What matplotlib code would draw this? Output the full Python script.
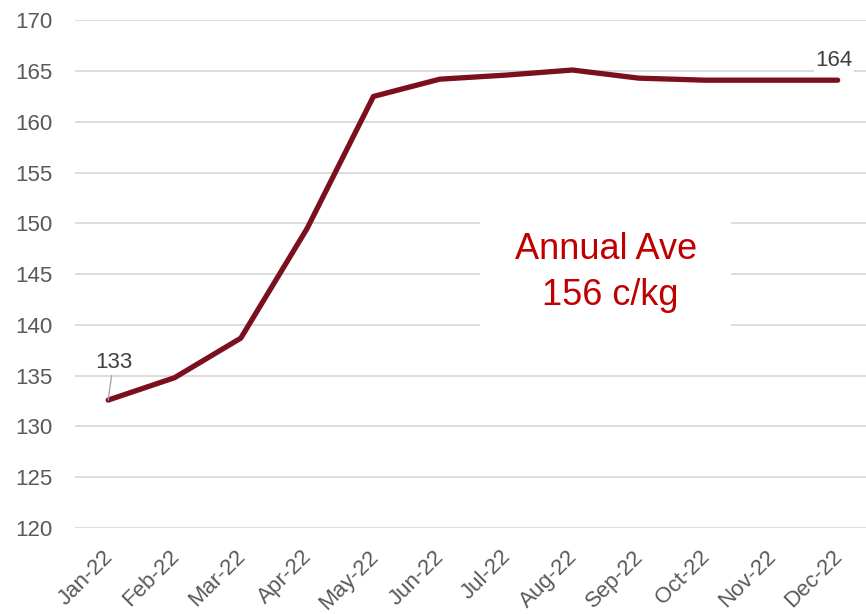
import matplotlib.pyplot as plt
import matplotlib.transforms as mtransforms

plt.rcParams['font.family'] = ['Liberation Sans', 'DejaVu Sans']

months = ['Jan-22', 'Feb-22', 'Mar-22', 'Apr-22', 'May-22', 'Jun-22',
          'Jul-22', 'Aug-22', 'Sep-22', 'Oct-22', 'Nov-22', 'Dec-22']
price = [132.6, 134.8, 138.7, 149.5, 162.5, 164.2,
         164.6, 165.1, 164.3, 164.1, 164.1, 164.1]
yticks = [120, 125, 130, 135, 140, 145, 150, 155, 160, 165, 170]

fig = plt.figure(figsize=(8.66, 6.14), dpi=100)
ax = fig.add_axes([0.0866, 0.140, 0.919, 0.827])

x = list(range(len(months)))
ax.plot(x, price, color='#7B0F1E', lw=3.8, solid_capstyle='round', zorder=3)

ax.set_xlim(-0.5, 11.5)
ax.set_ylim(120, 170)
ax.set_yticks(yticks)
ax.set_xticks(x)
ax.set_xticklabels(months, rotation=45, ha='right', rotation_mode='anchor')
ax.tick_params(axis='both', length=0, labelsize=16, colors='#595959')
ax.tick_params(axis='x', pad=8)
ax.tick_params(axis='y', pad=16)
ax.grid(axis='y', color='#D9D9D9', lw=1.3)
ax.set_axisbelow(True)
for s in ax.spines.values():
    s.set_visible(False)

# nudge the rotated month labels like Excel does
shift = mtransforms.ScaledTranslation(-6 / 100, -7 / 100, fig.dpi_scale_trans)
for lab in ax.get_xticklabels():
    lab.set_transform(lab.get_transform() + shift)

# data labels
ax.annotate(f'{price[0]:.0f}', xy=(x[0], price[0]), xytext=(x[0] + 0.08, 135.3),
            ha='center', va='bottom', fontsize=16, color='#404040',
            arrowprops=dict(arrowstyle='-', color='#A6A6A6', lw=1, shrinkA=0, shrinkB=0))
ax.text(x[-1] - 0.05, price[-1] + 0.9, f'{price[-1]:.0f}', ha='center', va='bottom',
        fontsize=16, color='#404040',
        bbox=dict(facecolor='white', edgecolor='none', pad=1))

ax.text(7.5, 145.2, 'Annual Ave\n 156 c/kg', ha='center', va='center',
        fontsize=26, color='#C00000', linespacing=1.4, zorder=2,
        bbox=dict(facecolor='white', edgecolor='none', boxstyle='square,pad=0.95'))

fig.savefig('out.png', dpi=100)
